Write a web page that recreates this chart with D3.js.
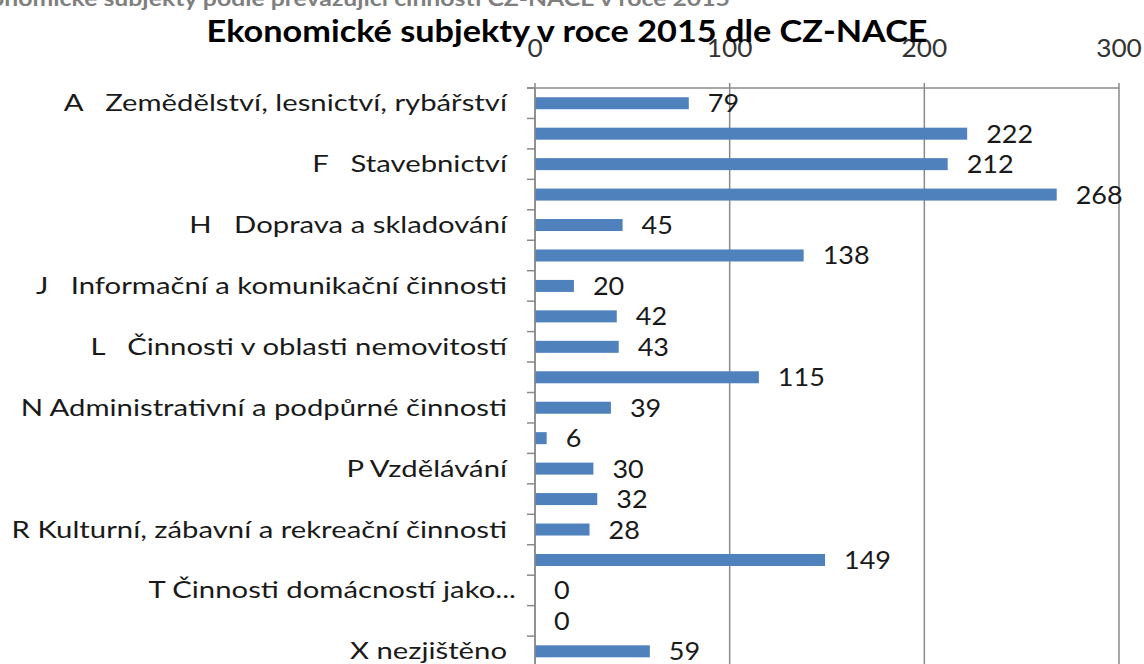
<!DOCTYPE html>
<html><head><meta charset="utf-8">
<script src="https://cdn.jsdelivr.net/npm/d3@7"></script>
<style>
html,body{margin:0;padding:0;background:#fff;overflow:hidden}
text{font-family:Lato,"Liberation Sans",sans-serif}
</style></head>
<body>
<svg id="chart" width="1144" height="664"></svg>
<script>
const categories = ["A","B-E","F","G","H","I","J","K","L","M","N","O","P","Q","R","S","T","U","X"];
const categoryNames = [
 "A   Zemědělství, lesnictví, rybářství",
 "B-E Průmysl celkem",
 "F   Stavebnictví",
 "G   Velkoobchod a maloobchod; opravy a údržba motorových vozidel",
 "H   Doprava a skladování",
 "I   Ubytování, stravování a pohostinství",
 "J   Informační a komunikační činnosti",
 "K   Peněžnictví a pojišťovnictví",
 "L   Činnosti v oblasti nemovitostí",
 "M Profesní, vědecké a technické činnosti",
 "N Administrativní a podpůrné činnosti",
 "O Veřejná správa a obrana; povinné sociální zabezpečení",
 "P Vzdělávání",
 "Q Zdravotní a sociální péče",
 "R Kulturní, zábavní a rekreační činnosti",
 "S Ostatní činnosti",
 "T Činnosti domácností jako zaměstnavatelů",
 "U Činnosti exteritoriálních organizací a orgánů",
 "X nezjištěno"];
// labels actually shown (Excel skipped every other one)
const tickLabels = [
 "A   Zemědělství, lesnictví, rybářství","",
 "F   Stavebnictví","",
 "H   Doprava a skladování","",
 "J   Informační a komunikační činnosti","",
 "L   Činnosti v oblasti nemovitostí","",
 "N Administrativní a podpůrné činnosti","",
 "P Vzdělávání","",
 "R Kulturní, zábavní a rekreační činnosti","",
 "T Činnosti domácností jako...","",
 "X nezjištěno"];
const values = [79,222,212,268,45,138,20,42,43,115,39,6,30,32,28,149,0,0,59];
const axisTicks = [0,100,200,300];
const titleText = "Ekonomické subjekty v roce 2015 dle CZ-NACE";
const headerText = "Ekonomické subjekty podle převažující činnosti CZ-NACE v roce 2015";

const svg = d3.select("#chart");
const x = d3.scaleLinear().domain([0,300]).range([535,1119]);
const y = d3.scaleBand().domain(categories).range([88, 88 + 19*30.45]).paddingInner(0).paddingOuter(0);
const gridColor = "#8a8a8a";
const cy = c => y(c) + y.bandwidth()/2;

// header (cut off at top)
svg.append("text").attr("transform","translate(730,6) scale(1.24,1)").attr("text-anchor","end")
  .attr("font-size",20).attr("font-weight","bold").attr("fill","#7f7f7f").text(headerText);

// gridlines
svg.append("g").selectAll("line").data(axisTicks).join("line")
  .attr("x1",d=>x(d)).attr("x2",d=>x(d)).attr("y1",83).attr("y2",700)
  .attr("stroke",gridColor).attr("stroke-width",1.5);
// top axis line
svg.append("line").attr("x1",527).attr("x2",x(300)).attr("y1",88).attr("y2",88)
  .attr("stroke",gridColor).attr("stroke-width",1.5);

// left axis ticks at band boundaries
const bounds = categories.map(c=>y(c)).concat([y.range()[1]]);
svg.append("g").selectAll("line").data(bounds).join("line")
  .attr("x1",527).attr("x2",535).attr("y1",d=>d).attr("y2",d=>d)
  .attr("stroke",gridColor).attr("stroke-width",1.5);

// bars
const barH = 12;
svg.append("g").selectAll("rect").data(values).join("rect")
  .attr("x",x(0)).attr("y",(d,i)=>cy(categories[i])-barH/2)
  .attr("width",d=>x(d)-x(0)).attr("height",barH).attr("fill","#4f81bd");

// value labels
svg.append("g").selectAll("text").data(values).join("text")
  .attr("transform",(d,i)=>`translate(${x(d)+19},${cy(categories[i])+9}) scale(1.08,1)`)
  .attr("font-size",25).attr("fill","#1a1a1a").text(d=>d);

// category labels
svg.append("g").selectAll("text").data(tickLabels).join("text")
  .attr("transform",(d,i)=>`translate(${d.endsWith("...")?516:507},${cy(categories[i])+8}) scale(1.22,1)`)
  .attr("text-anchor","end").attr("font-size",24).attr("fill","#1a1a1a")
  .style("white-space","pre").text(d=>d);

// top tick labels
svg.append("g").selectAll("text").data(axisTicks).join("text")
  .attr("transform",d=>`translate(${x(d)},57) scale(1.05,1)`).attr("text-anchor","middle")
  .attr("font-size",25).attr("fill","#333").text(d=>d);

// axis line (left)
svg.append("line").attr("x1",535).attr("x2",535).attr("y1",88).attr("y2",700)
  .attr("stroke",gridColor).attr("stroke-width",1.5);

// title
svg.append("text").attr("x",567).attr("y",42).attr("text-anchor","middle")
  .attr("font-size",30).attr("font-weight","bold").attr("fill","#000")
  .attr("textLength",721).attr("lengthAdjust","spacingAndGlyphs").text(titleText);
</script>
</body></html>
